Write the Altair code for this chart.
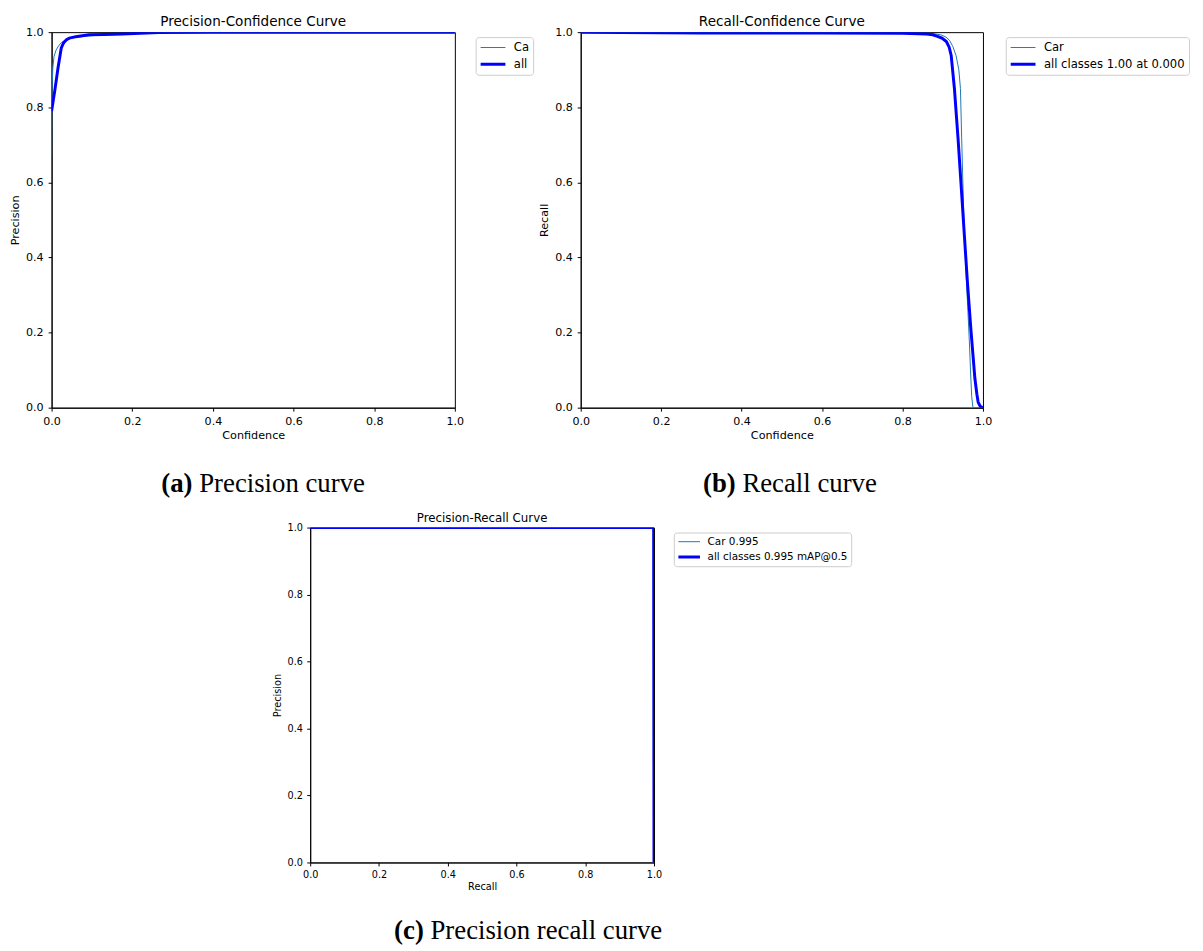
import altair as alt
import pandas as pd

# ---------------- data ----------------
# (a) Precision-Confidence
a_car_conf = [0.0, 0.0004, 0.0015, 0.003, 0.006, 0.011, 0.017, 0.024, 0.035, 0.05, 0.08, 0.12, 0.2, 0.3, 0.45, 0.7, 1.0]
a_car_prec = [0.67, 0.78, 0.86, 0.905, 0.935, 0.952, 0.963, 0.972, 0.979, 0.984, 0.989, 0.992, 0.996, 0.999, 1.0, 1.0, 1.0]
a_all_conf = [0.0, 0.008, 0.016, 0.024, 0.03, 0.037, 0.044, 0.06, 0.093, 0.13, 0.175, 0.265, 0.4, 0.7, 1.0]
a_all_prec = [0.79, 0.845, 0.905, 0.958, 0.972, 0.98, 0.984, 0.988, 0.993, 0.994, 0.995, 0.999, 1.0, 1.0, 1.0]

# (b) Recall-Confidence
b_car_conf = [0.0, 0.3, 0.6, 0.8, 0.87, 0.895, 0.908, 0.917, 0.925, 0.933, 0.94, 0.944, 0.947, 0.95, 0.954, 0.958, 0.962, 0.966, 0.969, 0.972, 0.975, 1.0]
b_car_rec = [1.0, 0.999, 0.999, 0.998, 0.997, 0.993, 0.987, 0.978, 0.962, 0.938, 0.9, 0.85, 0.72, 0.6, 0.455, 0.36, 0.27, 0.18, 0.1, 0.03, 0.0, 0.0]
b_all_conf = [0.0, 0.3, 0.6, 0.8, 0.86, 0.875, 0.887, 0.898, 0.909, 0.916, 0.921, 0.929, 0.938, 0.946, 0.954, 0.961, 0.97, 0.98, 0.985, 0.988, 0.992, 0.995, 1.0]
b_all_rec = [1.0, 0.998, 0.998, 0.997, 0.995, 0.993, 0.989, 0.984, 0.975, 0.96, 0.938, 0.85, 0.718, 0.587, 0.455, 0.34, 0.208, 0.077, 0.035, 0.015, 0.006, 0.002, 0.0]

# (c) Precision-Recall
c_car_rec = [0.0, 0.5, 0.999, 1.0]
c_car_prec = [1.0, 1.0, 1.0, 0.0]
c_all_rec = [0.0, 0.5, 0.999, 1.0]
c_all_prec = [1.0, 1.0, 1.0, 0.0]

series_a = ["Car", "all classes"]
series_b = ["Car", "all classes 1.00 at 0.000"]
series_c = ["Car 0.995", "all classes 0.995 mAP@0.5"]
line_colors = ["#1f77b4", "#0000ff"]
line_widths = [1, 3]
tick_values = [0.0, 0.2, 0.4, 0.6, 0.8, 1.0]

captions = [("(a)", "Precision curve"), ("(b)", "Recall curve"), ("(c)", "Precision recall curve")]

FONT = "DejaVu Sans"
SERIF = "Liberation Serif"


def frame(xs, ys, name):
    return pd.DataFrame({"x": xs, "y": ys, "series": name, "i": list(range(len(xs)))})


def panel(thin, thick, series, title, xtitle, ytitle, w, h, s, leg_xy, label_expr,
          caption, cap_x, cap_gap, cap_y, clip_h, row_pad, leg_pad, leg_fs):
    leg = alt.Legend(
        title=None, orient="none", legendX=leg_xy[0], legendY=leg_xy[1],
        symbolType="stroke", symbolSize=int(625 * s * s), labelFont=FONT,
        labelFontSize=leg_fs, labelColor="black", labelOffset=7 * s,
        labelLimit=500, strokeColor="#cccccc", fillColor="white",
        padding=leg_pad, cornerRadius=3, rowPadding=row_pad, clipHeight=clip_h,
        labelExpr=label_expr,
    )
    color = alt.Color("series:N", scale=alt.Scale(domain=series, range=line_colors), legend=leg)
    width = alt.StrokeWidth("series:N", scale=alt.Scale(domain=series, range=line_widths), legend=leg)
    axis_common = dict(values=tick_values, format=".1f", grid=False, domainColor="black",
                       tickColor="black", tickSize=3.5, labelFont=FONT, labelColor="black",
                       labelFontSize=11.2 * s, titleFont=FONT, titleFontSize=11.3 * s,
                       titleFontWeight="normal", titleColor="black", labelFlush=False)
    x = alt.X("x:Q", scale=alt.Scale(domain=[0, 1], nice=False, zero=False),
              axis=alt.Axis(title=xtitle, labelPadding=4 * s, titlePadding=3 * s, **axis_common))
    y = alt.Y("y:Q", scale=alt.Scale(domain=[0, 1], nice=False, zero=False),
              axis=alt.Axis(title=ytitle, labelPadding=5 * s, titlePadding=5 * s, **axis_common))
    l1 = alt.Chart(thin).mark_line(clip=True).encode(x=x, y=y, color=color, strokeWidth=width,
                                                    order="i:Q")
    l2 = alt.Chart(thick).mark_line(clip=True).encode(x=x, y=y, color=color, strokeWidth=width,
                                                     order="i:Q")
    cb = alt.Chart(pd.DataFrame({"t": [caption[0]]})).mark_text(
        font=SERIF, fontSize=27, fontWeight="bold", align="left", baseline="alphabetic",
        color="black").encode(text="t:N", x=alt.value(cap_x), y=alt.value(cap_y))
    cr = alt.Chart(pd.DataFrame({"t": [caption[1]]})).mark_text(
        font=SERIF, fontSize=27, fontWeight="normal", align="left", baseline="alphabetic",
        color="black").encode(text="t:N", x=alt.value(cap_x + cap_gap), y=alt.value(cap_y))
    return alt.layer(l1, l2, cb, cr).properties(
        width=w, height=h,
        title=alt.TitleParams(title, font=FONT, fontSize=13.7 * s, fontWeight="normal",
                              color="black", offset=-2, anchor="middle"),
    )


pa = panel(frame(a_car_conf, a_car_prec, series_a[0]), frame(a_all_conf, a_all_prec, series_a[1]),
           series_a, "Precision-Confidence Curve", "Confidence", "Precision", 407, 379, 1.0,
           (428, 5), "slice(datum.label, 0, datum.label == 'Car' ? 2 : 3)",
           captions[0], 110.7, 38.3, 464, 14, 3, 3.5, 11.7)
pb = panel(frame(b_car_conf, b_car_rec, series_b[0]), frame(b_all_conf, b_all_rec, series_b[1]),
           series_b, "Recall-Confidence Curve", "Confidence", "Recall", 406, 379, 1.0,
           (429, 5), "datum.label", captions[1], 123.5, 39.7, 464, 14, 3, 3.5, 11.7)
pc = panel(frame(c_car_rec, c_car_prec, series_c[0]), frame(c_all_rec, c_all_prec, series_c[1]),
           series_c, "Precision-Recall Curve", "Recall", "Precision", 347, 338, 0.87,
           (367, 5), "datum.label", captions[2], 84.7, 36.7, 415, 12.5, 2.5, 3, 10.5)

spacer = alt.Chart(pd.DataFrame({"v": [0]})).mark_point(opacity=0).encode(
    x=alt.value(0), y=alt.value(0)).properties(
    width=134, height=1, view=alt.ViewBackground(strokeWidth=0))

indep = dict(color="independent", strokeWidth="independent")

top = alt.hconcat(pa, pb, spacing=127, bounds="flush").resolve_scale(**indep).resolve_legend(**indep)
bottom = alt.hconcat(spacer, pc, spacing=127, bounds="flush").resolve_scale(**indep).resolve_legend(**indep)

chart = alt.vconcat(top, bottom, spacing=13).resolve_scale(**indep).resolve_legend(**indep).properties(
    padding={"left": 1, "top": 1, "right": 5, "bottom": 5}, background="white"
).configure_view(stroke="black", strokeWidth=1)

chart.save("out.html", embed_options={"renderer": "svg", "actions": False})
